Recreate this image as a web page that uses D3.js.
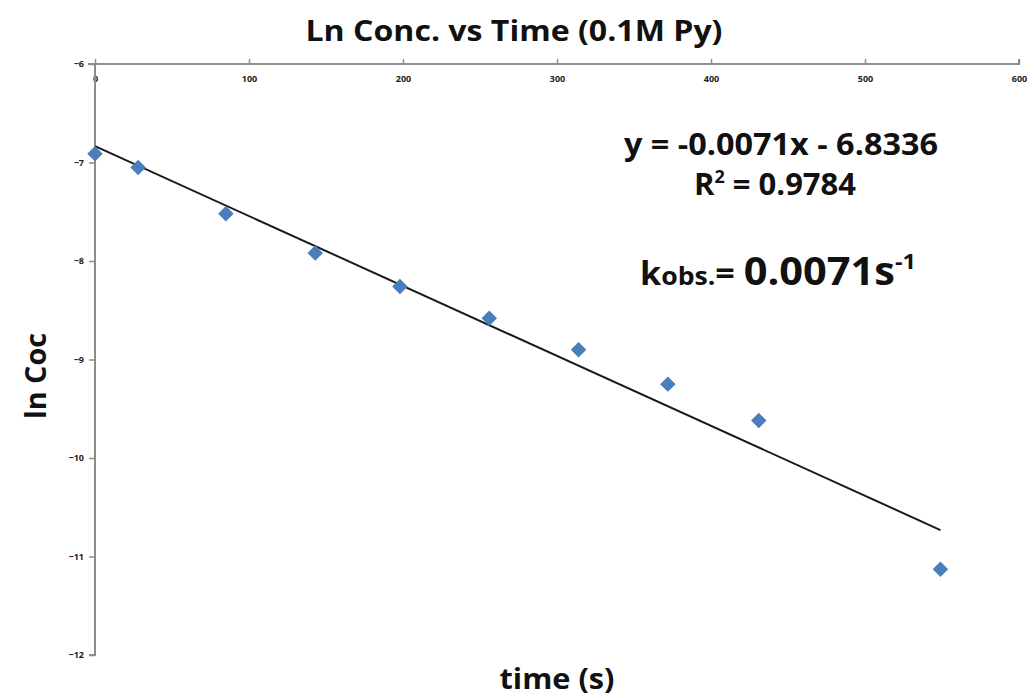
<!DOCTYPE html>
<html>
<head>
<meta charset="utf-8">
<script src="https://cdn.jsdelivr.net/npm/d3@7"></script>
<style>
  html, body { margin: 0; padding: 0; background: #fff; }
  svg { display: block; }
</style>
</head>
<body>
<svg id="chart" width="1035" height="698"></svg>
<script>
// Measured times (s) and ln of concentration
const times = [0, 28, 85, 143, 198, 256, 314, 372, 431, 549];
const lnConc = [-6.91, -7.05, -7.52, -7.92, -8.26, -8.58, -8.90, -9.25, -9.62, -11.13];

// Linear fit y = slope * x + intercept
const slope = -0.0071;
const intercept = -6.8336;
const rSquared = 0.9784;

const xTicks = [0, 100, 200, 300, 400, 500, 600];
const yTicks = [-6, -7, -8, -9, -10, -11, -12];

const svg = d3.select("#chart");
const plotLeft = 95, plotRight = 1019, plotTop = 64, plotBottom = 655;

const x = d3.scaleLinear().domain([0, 600]).range([plotLeft, plotRight]);
const y = d3.scaleLinear().domain([-12, -6]).range([plotBottom, plotTop]);

const axisColor = "#8c8c8c";
const tickFont = "Open Sans, DejaVu Sans, sans-serif";

// Horizontal axis along the top (-6)
const xAxis = svg.append("g")
  .attr("transform", `translate(0,${plotTop})`)
  .call(d3.axisBottom(x).tickValues(xTicks).tickSize(5).tickPadding(7).tickFormat(d3.format("d")));
xAxis.select(".domain").attr("stroke", axisColor).attr("stroke-width", 2)
  .attr("d", `M${plotLeft - 7},0H${plotRight}V-5`);
xAxis.selectAll(".tick line").attr("stroke", axisColor).attr("stroke-width", 1.5).attr("y2", -5);
xAxis.selectAll(".tick text")
  .attr("font-family", tickFont).attr("font-size", 9).attr("font-weight", "bold").attr("fill", "#222");

// Vertical axis at x = 0
const yAxis = svg.append("g")
  .attr("transform", `translate(${plotLeft},0)`)
  .call(d3.axisLeft(y).tickValues(yTicks).tickSize(6).tickPadding(5).tickFormat(d3.format("d")));
yAxis.select(".domain").attr("stroke", axisColor).attr("stroke-width", 2)
  .attr("d", `M0,${plotTop}V${plotBottom}H-6`);
yAxis.selectAll(".tick line").attr("stroke", axisColor).attr("stroke-width", 1.5);
yAxis.selectAll(".tick text")
  .attr("font-family", tickFont).attr("font-size", 9).attr("font-weight", "bold").attr("fill", "#222");

// Trend line across the data range
const xMin = d3.min(times), xMax = d3.max(times);
svg.append("line")
  .attr("x1", x(xMin)).attr("y1", y(slope * xMin + intercept))
  .attr("x2", x(xMax)).attr("y2", y(slope * xMax + intercept))
  .attr("stroke", "#1a1a1a").attr("stroke-width", 2);

// Diamond markers
const diamond = d3.symbol().type(d3.symbolSquare).size(120);
svg.append("g").selectAll("path")
  .data(times.map((t, i) => ({ t, v: lnConc[i] })))
  .join("path")
  .attr("d", diamond)
  .attr("transform", d => `translate(${x(d.t)},${y(d.v)}) rotate(45)`)
  .attr("fill", "#4a7ebb");

const boldFont = "Open Sans, DejaVu Sans, sans-serif";

// Title
svg.append("text")
  .attr("x", 514).attr("y", 41)
  .attr("text-anchor", "middle")
  .attr("font-family", boldFont).attr("font-weight", "bold").attr("font-size", 29)
  .attr("textLength", 417).attr("lengthAdjust", "spacingAndGlyphs")
  .attr("fill", "#111")
  .text("Ln Conc. vs Time (0.1M Py)");

// Axis titles
svg.append("text")
  .attr("transform", "translate(46,376) rotate(-90)")
  .attr("text-anchor", "middle")
  .attr("font-family", boldFont).attr("font-weight", "bold").attr("font-size", 29)
  .attr("textLength", 86).attr("lengthAdjust", "spacingAndGlyphs")
  .attr("fill", "#111")
  .text("ln Coc");

svg.append("text")
  .attr("x", 557).attr("y", 689)
  .attr("text-anchor", "middle")
  .attr("font-family", boldFont).attr("font-weight", "bold").attr("font-size", 29)
  .attr("textLength", 115).attr("lengthAdjust", "spacingAndGlyphs")
  .attr("fill", "#111")
  .text("time (s)");

// Fit equation and R²
const fmt4 = d3.format(".4f");
svg.append("text")
  .attr("x", 781).attr("y", 155)
  .attr("text-anchor", "middle")
  .attr("font-family", boldFont).attr("font-weight", "bold").attr("font-size", 31)
  .attr("textLength", 314).attr("lengthAdjust", "spacingAndGlyphs")
  .attr("fill", "#111")
  .text(`y = -${fmt4(-slope)}x - ${fmt4(-intercept)}`);

const r2 = svg.append("text")
  .attr("x", 775).attr("y", 195)
  .attr("text-anchor", "middle")
  .attr("font-family", boldFont).attr("font-weight", "bold").attr("font-size", 31)
  .attr("fill", "#111");
r2.append("tspan").text("R");
r2.append("tspan").attr("dy", -12).attr("font-size", 18).text("2");
r2.append("tspan").attr("dy", 12).text(` = ${fmt4(rSquared)}`);

// Observed rate constant
const k = svg.append("text")
  .attr("x", 778).attr("y", 285)
  .attr("text-anchor", "middle")
  .attr("font-family", boldFont).attr("font-weight", "bold")
  .attr("textLength", 276).attr("lengthAdjust", "spacingAndGlyphs")
  .attr("fill", "#111");
k.append("tspan").attr("font-size", 32).text("k");
k.append("tspan").attr("font-size", 25).text("obs.");
k.append("tspan").attr("font-size", 32).text("= ");
k.append("tspan").attr("font-size", 39).text(`${fmt4(-slope)}s`);
k.append("tspan").attr("font-size", 22).attr("dy", -16).text("-1");
</script>
</body>
</html>
